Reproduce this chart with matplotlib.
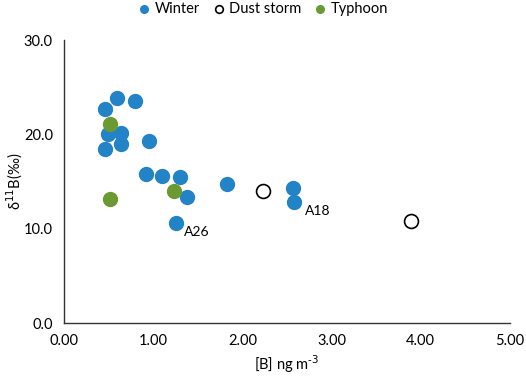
import matplotlib.pyplot as plt

plt.rcParams['font.family'] = ['Lato', 'DejaVu Sans']

winter_x = [0.59, 0.80, 0.46, 0.49, 0.64, 0.64, 0.46, 0.95, 0.92, 1.10, 1.30, 1.38, 1.26, 1.83, 2.57, 2.58]
winter_y = [23.9, 23.5, 22.7, 20.0, 20.1, 19.0, 18.5, 19.3, 15.8, 15.6, 15.5, 13.4, 10.6, 14.7, 14.3, 12.8]
dust_x = [2.23, 3.89]
dust_y = [14.0, 10.8]
typhoon_x = [0.51, 1.23, 0.51]
typhoon_y = [21.1, 14.0, 13.1]
labels = ['A26', 'A18']
label_x = [1.345, 2.705]
label_y = [9.7, 11.9]

fig = plt.figure(figsize=(5.26, 3.78), dpi=100)
ax = fig.add_axes([0.1217, 0.1455, 0.8479, 0.7485])

ax.scatter(winter_x, winter_y, s=100, color='#2283C6', label='Winter', zorder=3)
ax.scatter(dust_x, dust_y, s=100, facecolor='white', edgecolor='black', linewidth=1.2,
           label='Dust storm', zorder=3)
ax.scatter(typhoon_x, typhoon_y, s=100, color='#6C9A32', label='Typhoon', zorder=3)

for t, x, y in zip(labels, label_x, label_y):
    ax.text(x, y, t, fontsize=10, va='center', ha='left')

ax.set_xlim(0, 5)
ax.set_ylim(0, 30)
ax.set_xticks([0, 1, 2, 3, 4, 5])
ax.set_xticklabels(['0.00', '1.00', '2.00', '3.00', '4.00', '5.00'])
ax.set_yticks([0, 10, 20, 30])
ax.set_yticklabels(['0.0', '10.0', '20.0', '30.0'])
ax.tick_params(length=0, labelsize=10.5, pad=8)
ax.spines['top'].set_visible(False)
ax.spines['right'].set_visible(False)
for s in ['left', 'bottom']:
    ax.spines[s].set_linewidth(1.0)
    ax.spines[s].set_color('#333333')

ax.set_xlabel('[B] ng m$^{\\text{-3}}$', fontsize=10.5, labelpad=4)
ax.set_ylabel('δ$^{11}$B(‰)', fontsize=10.5, labelpad=-1)

fig.legend(loc='upper center', bbox_to_anchor=(0.5, 1.03), ncol=3, frameon=False,
           fontsize=10.5, markerscale=0.55, handlelength=0.8, handletextpad=0.3,
           columnspacing=0.9)

fig.savefig('out.png', dpi=100)
